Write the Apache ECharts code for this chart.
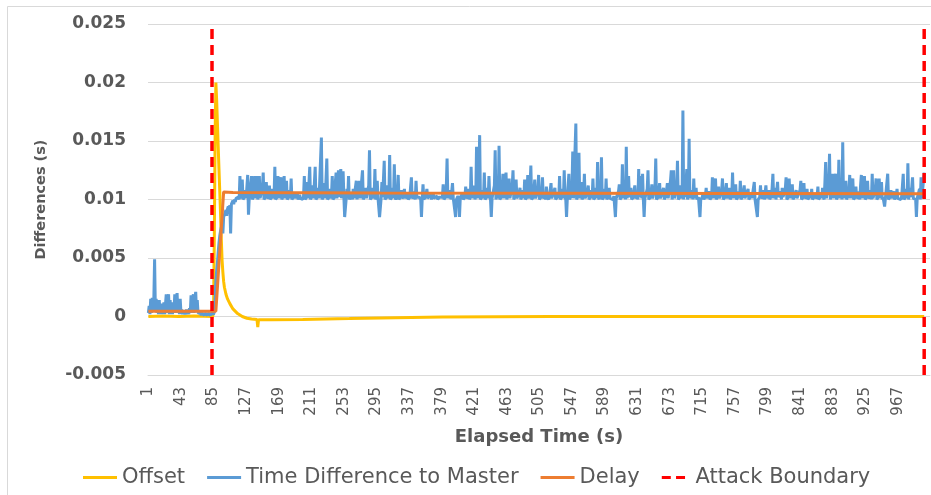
<!DOCTYPE html>
<html>
<head>
<meta charset="utf-8">
<script src="https://cdn.jsdelivr.net/npm/echarts@6/dist/echarts.min.js"></script>
<style>
  html, body { margin: 0; padding: 0; background: #fff; }
  #chart { width: 931px; height: 495px; }
</style>
</head>
<body>
<div id="chart"></div>
<script>
// Elapsed time categories (s)
const categories = Array.from({ length: 1008 }, (_, i) => String(i + 1));

// Y-axis tick labels (s)
const yTicks = ['-0.005', '0', '0.005', '0.01', '0.015', '0.02', '0.025'];

// All series values below are in milliseconds.
// Time Difference to Master, seconds 1-116 (one value per second)
const tdmEarly = [
  0.3,0.9,0.2,1.5,0.3,1.6,0.4,1.4,4.9,0.5,1.5,0.3,1.3,0.2,1.4,0.3,1.1,0.2,0.9,0.3,
  1.2,0.2,1.0,1.9,0.3,1.3,1.9,0.2,1.4,0.3,1.2,0.2,1.0,0.4,1.9,0.3,1.4,2.0,0.3,1.4,
  0.2,1.5,0.3,0.6,0.2,0.5,0.2,0.4,0.2,0.6,0.2,0.5,0.2,0.7,0.3,1.8,0.3,1.6,1.9,0.3,
  1.5,2.1,0.4,1.4,0.3,0.4,0.2,0.3,0.1,0.3,0.2,0.4,0.1,0.3,0.2,0.3,0.1,0.3,0.2,0.3,
  0.1,0.3,0.2,0.3,0.2,0.4,1.5,3.0,3.9,4.6,5.5,6.3,6.9,7.3,7.6,7.9,7.1,8.5,8.7,8.9,
  9.1,8.6,9.2,9.4,9.2,9.5,7.1,9.6,9.7,9.9,9.6,10.0,9.8,10.1,10.0,10.1
];

// Time Difference to Master after second 116, as [second, ms]
const tdmLate = [
  [117,10.2],[118,10.0],[119,12.0],[120,10.1],[121,10.3],[122,11.7],[123,10.0],[125,10.2],[126,10.8],[127,10.1],
  [128,10.2],[129,12.1],[130,8.7],[131,10.1],[133,10.2],[134,12.0],[135,10.0],[137,10.3],[138,12.0],[139,10.1],
  [140,10.2],[141,12.0],[142,10.0],[143,10.3],[144,12.0],[145,10.1],[147,10.2],[148,11.1],[149,12.3],[150,10.0],
  [152,10.2],[153,11.5],[154,10.1],[156,10.3],[157,11.2],[158,10.0],[160,10.2],[161,10.9],[162,10.1],[163,10.3],
  [164,12.8],[165,10.0],[167,10.2],[168,12.0],[169,10.1],[171,10.2],[172,11.9],[173,10.0],[175,10.3],[176,12.0],
  [177,10.1],[178,10.2],[179,11.6],[180,10.0],[182,10.2],[183,10.8],[184,10.1],[185,11.8],[186,10.0],[188,10.2],
  [190,10.6],[191,10.1],[193,10.5],[194,10.0],[196,10.4],[197,10.1],[199,10.2],[200,10.0],[201,10.3],[202,12.0],
  [203,10.0],[205,10.2],[206,11.5],[207,10.1],[208,10.2],[209,12.8],[210,10.0],[212,10.3],[213,11.2],[214,10.1],
  [215,10.2],[216,12.8],[217,10.0],[219,10.2],[220,11.0],[221,10.1],[223,10.2],[224,15.3],[225,10.0],[227,10.3],
  [228,11.4],[229,10.1],[230,10.2],[231,13.5],[232,10.0],[234,10.2],[235,10.9],[236,10.1],[237,10.3],[238,12.0],
  [239,10.0],[241,10.2],[242,11.5],[243,12.3],[244,10.1],[245,11.6],[246,12.5],[247,10.2],[248,11.8],[249,12.6],
  [250,10.1],[251,11.5],[252,12.4],[253,10.2],[254,8.5],[255,8.5],[256,10.1],[257,10.9],[258,10.2],[259,12.0],
  [260,10.0],[262,10.3],[263,10.6],[264,10.0],[265,10.9],[266,10.1],[268,10.2],[269,11.6],[270,10.0],[271,10.9],
  [272,10.2],[273,11.6],[274,10.1],[276,10.2],[277,12.5],[278,10.0],[280,10.3],[281,11.0],[282,10.1],[284,10.2],
  [285,11.2],[286,14.2],[287,10.0],[289,10.2],[290,11.0],[291,10.1],[292,10.3],[293,12.6],[294,10.0],[295,10.2],
  [296,11.6],[297,10.1],[298,10.2],[299,8.5],[300,8.5],[301,10.1],[302,11.5],[303,10.2],[305,13.3],[306,10.0],
  [308,10.2],[309,11.2],[310,10.1],[311,10.3],[312,13.8],[313,10.0],[315,10.2],[316,11.0],[317,10.1],[318,13.0],
  [319,10.2],[320,10.0],[322,10.3],[323,12.1],[324,10.0],[326,10.2],[327,10.8],[328,10.1],[330,10.3],[331,10.9],
  [332,10.1],[334,10.2],[335,10.6],[336,10.0],[338,10.2],[339,11.1],[340,11.9],[341,10.1],[343,10.3],[344,10.7],
  [345,10.0],[346,11.6],[347,10.2],[349,10.1],[350,10.2],[352,10.0],[353,8.5],[354,10.1],[355,11.3],[356,10.0],
  [358,10.2],[359,10.5],[360,10.9],[361,10.1],[363,10.2],[365,10.4],[366,10.0],[368,10.6],[369,10.1],[371,10.2],
  [373,10.3],[374,10.0],[376,10.2],[378,10.1],[380,10.2],[381,11.3],[382,10.0],[384,10.2],[385,11.0],[386,13.5],
  [387,10.1],[389,10.2],[390,10.8],[391,10.0],[393,11.4],[394,10.1],[396,10.2],[397,8.5],[398,10.0],[400,10.3],
  [401,10.1],[402,8.5],[403,10.1],[405,10.2],[406,10.6],[407,10.0],[409,10.2],[410,11.1],[411,10.1],[413,10.3],
  [414,10.9],[415,10.0],[416,10.2],[417,12.8],[418,10.1],[420,10.2],[421,11.2],[422,10.0],[423,10.3],[424,14.5],
  [425,10.1],[426,10.2],[427,11.6],[428,15.5],[429,10.0],[431,10.2],[432,10.8],[433,10.1],[434,12.3],[435,10.0],
  [437,10.2],[438,11.0],[439,10.1],[440,12.0],[441,10.2],[442,10.0],[443,8.5],[444,10.1],[446,10.2],[447,11.2],
  [448,14.2],[449,10.0],[450,10.3],[451,11.5],[452,10.1],[453,14.6],[454,10.0],[456,10.2],[457,11.0],[458,12.2],
  [459,10.1],[461,10.2],[462,12.3],[463,10.0],[464,10.3],[465,11.3],[466,11.8],[467,10.1],[469,10.2],[470,11.2],
  [471,12.5],[472,10.0],[473,10.2],[474,10.8],[475,11.7],[476,10.1],[478,10.2],[479,10.6],[480,11.0],[481,10.0],
  [483,10.3],[484,10.8],[485,10.1],[486,11.7],[487,10.0],[489,10.2],[490,12.1],[491,10.1],[492,10.3],[493,11.3],
  [494,12.9],[495,10.0],[497,10.2],[498,10.9],[499,11.7],[500,10.1],[502,10.2],[503,10.8],[504,12.1],[505,10.0],
  [507,10.2],[508,10.6],[509,11.9],[510,10.1],[512,10.3],[513,10.0],[514,11.1],[515,10.2],[517,10.0],[518,10.3],
  [520,11.4],[521,10.1],[523,10.2],[525,11.0],[526,10.0],[528,10.2],[529,10.6],[530,10.1],[531,12.0],[532,10.0],
  [534,10.2],[535,10.9],[536,10.1],[537,12.5],[538,10.2],[539,10.0],[540,8.5],[541,10.1],[542,10.2],[543,12.2],
  [544,10.0],[546,10.3],[547,11.0],[548,14.1],[549,10.1],[551,10.2],[552,16.5],[553,10.0],[554,10.2],[555,11.2],
  [556,14.0],[557,10.1],[559,11.5],[560,10.0],[562,10.3],[563,12.2],[564,10.1],[566,10.2],[567,10.7],[568,11.2],
  [569,10.0],[571,10.2],[572,10.8],[573,10.1],[574,11.8],[575,10.0],[577,10.2],[578,11.0],[579,10.1],[580,13.2],
  [581,10.2],[582,10.0],[583,11.4],[584,10.2],[585,13.6],[586,10.0],[588,10.2],[589,10.9],[590,10.1],[591,11.8],
  [592,10.0],[594,10.3],[595,11.0],[596,10.1],[598,10.2],[600,10.0],[601,10.3],[603,8.5],[604,10.1],[606,10.2],
  [607,10.7],[608,11.3],[609,10.0],[611,10.2],[612,13.0],[613,10.1],[614,10.3],[615,11.5],[616,10.0],[617,14.5],
  [618,10.1],[620,12.0],[621,10.2],[623,11.0],[624,10.0],[626,10.2],[628,11.2],[629,10.1],[631,10.3],[632,10.0],
  [633,12.6],[634,10.2],[636,12.0],[637,10.1],[638,12.2],[639,10.0],[640,8.5],[641,10.1],[643,10.2],[644,10.9],
  [645,12.5],[646,10.0],[648,10.2],[649,10.6],[650,11.3],[651,10.1],[653,10.2],[654,11.0],[655,13.5],[656,10.0],
  [658,10.2],[660,11.4],[661,10.1],[663,10.2],[665,11.0],[666,10.0],[668,10.3],[670,11.4],[671,10.1],[673,10.2],
  [674,11.6],[675,12.5],[676,10.0],[677,10.3],[678,12.5],[679,10.1],[681,10.2],[682,11.0],[683,13.3],[684,10.0],
  [686,10.2],[687,11.2],[688,10.1],[689,10.3],[690,17.6],[691,10.0],[692,12.0],[693,10.2],[694,10.1],[695,12.6],
  [696,10.0],[697,10.3],[698,15.2],[699,10.1],[701,10.2],[702,10.8],[703,10.0],[704,11.8],[705,10.1],[707,11.0],
  [708,10.0],[710,10.2],[711,10.1],[712,8.5],[713,10.0],[715,10.2],[716,10.6],[717,10.0],[719,10.3],[720,11.0],
  [721,10.1],[723,10.2],[724,10.7],[725,10.0],[727,10.2],[728,11.9],[729,10.1],[731,10.2],[732,11.8],[733,10.0],
  [735,10.3],[736,11.1],[737,10.1],[739,10.2],[740,10.8],[741,11.8],[742,10.0],[744,10.2],[746,11.4],[747,10.1],
  [749,10.2],[750,11.0],[751,10.0],[753,10.3],[754,12.3],[755,10.1],[757,10.2],[758,11.3],[759,10.0],[761,10.2],
  [762,10.7],[763,10.1],[764,11.6],[765,10.0],[767,10.3],[769,11.2],[770,10.1],[772,10.2],[774,10.9],[775,10.0],
  [777,10.2],[778,10.6],[779,10.1],[781,10.2],[782,11.5],[783,10.0],[785,10.1],[786,8.5],[787,10.0],[789,10.2],
  [790,11.2],[791,10.1],[793,10.3],[794,10.8],[795,10.0],[797,11.2],[798,10.1],[800,10.2],[801,10.8],[802,10.0],
  [804,10.3],[805,11.0],[806,12.2],[807,10.1],[809,11.0],[810,10.0],[812,11.5],[813,10.2],[815,10.1],[816,10.7],
  [817,10.0],[818,11.0],[819,10.2],[821,10.1],[822,10.9],[823,11.9],[824,10.0],[826,10.2],[827,11.8],[828,10.1],
  [830,10.2],[831,11.3],[832,10.0],[834,10.3],[836,10.8],[837,10.1],[839,10.2],[841,10.8],[842,11.6],[843,10.0],
  [845,10.2],[846,11.4],[847,10.1],[849,10.3],[850,10.9],[851,10.0],[853,10.2],[854,10.6],[855,10.1],[856,10.9],
  [857,10.0],[859,10.2],[860,10.5],[861,10.1],[863,10.3],[864,11.1],[865,10.0],[867,10.2],[868,10.6],[869,10.1],
  [870,11.0],[871,10.2],[872,10.0],[873,11.4],[874,13.2],[875,10.1],[877,10.2],[878,11.6],[879,13.9],[880,10.0],
  [881,10.3],[882,11.3],[883,12.2],[884,10.1],[886,10.2],[887,12.2],[888,10.0],[890,10.3],[891,13.4],[892,10.1],
  [893,10.2],[894,11.8],[895,10.0],[896,14.9],[897,10.1],[899,10.2],[900,11.6],[901,10.0],[903,10.3],[904,10.8],
  [905,12.1],[906,10.1],[908,10.2],[909,11.8],[910,10.0],[912,10.2],[913,11.1],[914,10.1],[916,10.3],[917,10.7],
  [918,10.0],[919,11.2],[920,12.1],[921,10.1],[923,10.2],[924,12.0],[925,10.0],[927,10.2],[928,11.6],[929,10.1],
  [931,10.3],[932,10.8],[933,10.0],[934,12.2],[935,10.1],[937,10.2],[938,10.9],[939,11.8],[940,10.0],[942,10.2],
  [943,11.8],[944,10.1],[945,10.2],[946,11.5],[947,10.0],[948,10.2],[949,10.1],[950,9.4],[951,10.1],[953,10.2],
  [954,12.2],[955,10.0],[957,10.2],[958,10.8],[959,10.1],[961,10.2],[962,10.7],[963,10.0],[965,10.3],[966,10.9],
  [967,10.1],[969,10.2],[971,10.0],[972,10.3],[973,11.2],[974,12.2],[975,10.0],[977,10.2],[978,10.9],[979,10.1],
  [980,13.1],[981,10.0],[983,11.0],[984,10.2],[986,11.9],[987,10.1],[989,10.2],[990,10.0],[991,8.5],[992,10.1],
  [994,10.2],[995,10.9],[996,10.0],[997,11.9],[998,10.1],[1000,10.2],[1001,12.3]
];

// Offset, as [second, ms]
const offsetPoints = [
  [1,0.0],[20,0.05],[40,0.0],[60,0.05],[84,0.0],[85,0.5],[86,7.0],[87,15.5],[88,20.0],[89,18.5],
  [90,16.5],[91,14.5],[92,12.6],[93,10.7],[94,8.8],[95,6.6],[96,4.8],[97,3.8],[98,3.0],[99,2.5],
  [101,1.9],[103,1.5],[106,1.1],[110,0.65],[116,0.25],[122,0.0],[128,-0.15],[134,-0.22],[141,-0.26],[142,-0.9],
  [143,-0.27],[160,-0.28],[200,-0.25],[260,-0.18],[320,-0.1],[380,-0.05],[450,-0.02],[520,0.0],[1001,0.0]
];

// Delay, as [second, ms]
const delayPoints = [
  [1,0.45],[88,0.45],[98,10.65],[110,10.6],[300,10.55],[1001,10.5]
];

// Attack window boundaries (second) and vertical extent (ms)
const attackStart = 83;
const attackEnd = 1001;
const boundarySpan = [-5, 25];

const toSeries = (pairs) => pairs.map(([t, ms]) => [String(t), ms / 1000]);
const tdmData = toSeries(tdmEarly.map((ms, i) => [i + 1, ms]).concat(tdmLate));
const offsetData = toSeries(offsetPoints);
const delayData = toSeries(delayPoints);
const boundaryAt = (t) => toSeries(boundarySpan.map((ms) => [t, ms]));

const FONT = 'DejaVu Sans';
const TEXT = '#595959';
const GRID = '#d9d9d9';

// Legend keys: solid bar for the lines, two short bars for the dashed boundary
const SOLID_KEY = 'rect';
const DASH_KEY = 'path://M0,0H12V4H0Z M19,0H31V4H19Z';

const chart = echarts.init(document.getElementById('chart'), null, { renderer: 'canvas' });

const boundaryStyle = { color: '#ff0000', width: 3.5, type: [10, 6] };

chart.setOption({
  animation: false,
  backgroundColor: '#ffffff',
  graphic: [{
    type: 'rect',
    shape: { x: 7.5, y: 6.5, width: 960, height: 520 },
    style: { fill: 'none', stroke: GRID, lineWidth: 1 },
    silent: true
  }],
  grid: { left: 148, right: 1, top: 24, bottom: 120 },
  legend: {
    left: 78,
    top: 462,
    itemWidth: 34,
    itemHeight: 3,
    itemGap: 22,
    textStyle: { fontFamily: FONT, fontSize: 21, color: TEXT },
    data: [
      { name: 'Offset', icon: SOLID_KEY },
      { name: 'Time Difference to Master', icon: SOLID_KEY },
      { name: 'Delay', icon: SOLID_KEY },
      { name: 'Attack Boundary', icon: DASH_KEY }
    ]
  },
  xAxis: {
    type: 'category',
    data: categories,
    boundaryGap: true,
    name: 'Elapsed Time (s)',
    nameLocation: 'middle',
    nameGap: 53,
    nameTextStyle: { fontFamily: FONT, fontWeight: 'bold', fontSize: 18, color: TEXT },
    axisLine: { onZero: false, lineStyle: { color: GRID, width: 1 } },
    axisTick: { show: false },
    axisLabel: {
      interval: 41,
      rotate: 90,
      margin: 12,
      fontFamily: FONT,
      fontSize: 15,
      color: TEXT
    },
    splitLine: { show: false }
  },
  yAxis: {
    type: 'value',
    min: -0.005,
    max: 0.025,
    interval: 0.005,
    name: 'Differences (s)',
    nameLocation: 'middle',
    nameGap: 99,
    nameTextStyle: { fontFamily: FONT, fontWeight: 'bold', fontSize: 14.5, color: TEXT },
    axisLine: { show: false },
    axisTick: { show: false },
    axisLabel: {
      margin: 22,
      fontFamily: FONT,
      fontWeight: 'bold',
      fontSize: 17,
      color: TEXT,
      formatter: (v) => yTicks[Math.round((v + 0.005) / 0.005)]
    },
    splitLine: { lineStyle: { color: GRID, width: 1 } }
  },
  series: [
    {
      name: 'Offset',
      type: 'line',
      data: offsetData,
      symbol: 'none',
      lineStyle: { color: '#ffc000', width: 3 },
      itemStyle: { color: '#ffc000' }
    },
    {
      name: 'Time Difference to Master',
      type: 'line',
      data: tdmData,
      symbol: 'none',
      lineStyle: { color: '#5b9bd5', width: 3 },
      itemStyle: { color: '#5b9bd5' }
    },
    {
      name: 'Delay',
      type: 'line',
      data: delayData,
      symbol: 'none',
      lineStyle: { color: '#ed7d31', width: 3 },
      itemStyle: { color: '#ed7d31' }
    },
    {
      name: 'Attack Boundary',
      type: 'line',
      data: boundaryAt(attackStart),
      symbol: 'none',
      lineStyle: boundaryStyle,
      itemStyle: { color: '#ff0000' }
    },
    {
      name: 'Attack Boundary',
      type: 'line',
      data: boundaryAt(attackEnd),
      symbol: 'none',
      lineStyle: boundaryStyle,
      itemStyle: { color: '#ff0000' }
    }
  ]
});
</script>
</body>
</html>
